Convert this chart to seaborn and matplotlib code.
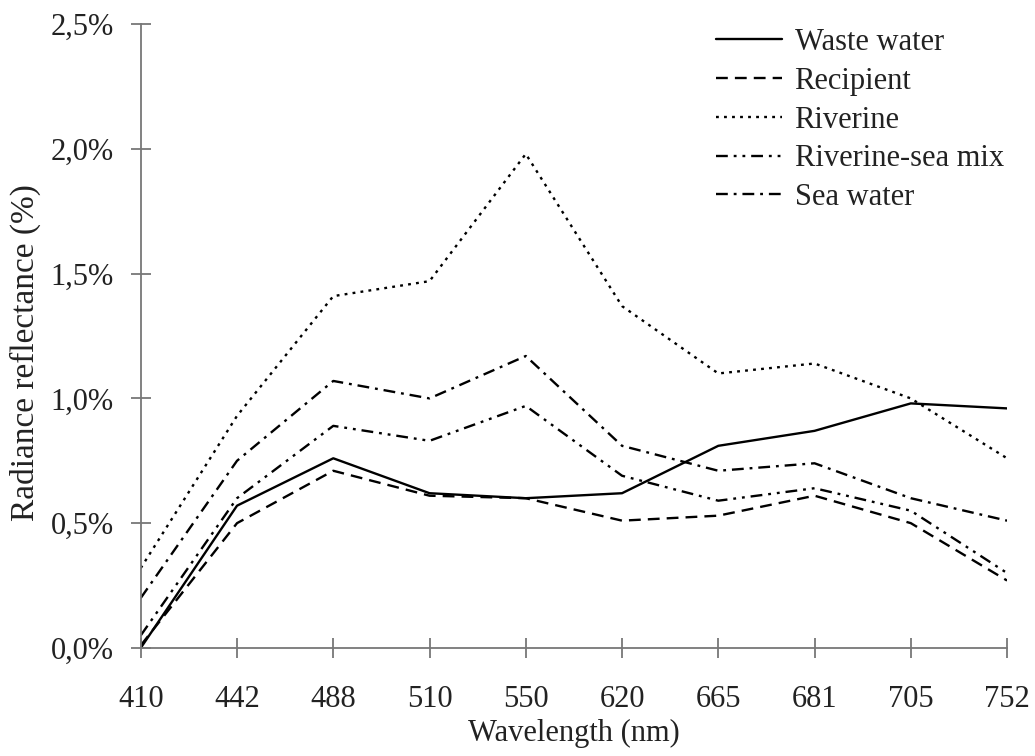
import matplotlib
matplotlib.use("Agg")
import matplotlib.pyplot as plt
import seaborn as sns
import pandas as pd
from matplotlib.ticker import FuncFormatter

wavelengths = ["410", "442", "488", "510", "550", "620", "665", "681", "705", "752"]
waste_water = [0.00, 0.57, 0.76, 0.62, 0.60, 0.62, 0.81, 0.87, 0.98, 0.96]
recipient = [0.01, 0.50, 0.71, 0.61, 0.60, 0.51, 0.53, 0.61, 0.50, 0.27]
riverine = [0.32, 0.93, 1.41, 1.47, 1.98, 1.37, 1.10, 1.14, 1.00, 0.76]
riverine_sea_mix = [0.05, 0.60, 0.89, 0.83, 0.97, 0.69, 0.59, 0.64, 0.55, 0.30]
sea_water = [0.20, 0.75, 1.07, 1.00, 1.17, 0.81, 0.71, 0.74, 0.60, 0.51]

series_names = ["Waste water", "Recipient", "Riverine", "Riverine-sea mix", "Sea water"]
series_values = [waste_water, recipient, riverine, riverine_sea_mix, sea_water]

rows = []
for name, vals in zip(series_names, series_values):
    for i, v in enumerate(vals):
        rows.append({"pos": i, "value": v, "series": name})
df = pd.DataFrame(rows)

sns.set_theme(style="white")
plt.rcParams["font.family"] = ["Liberation Serif", "DejaVu Serif"]

FS = 22
fig = plt.figure(figsize=(10.35, 7.56), dpi=100)
ax = fig.add_axes([0.136, 0.143, 0.837, 0.825])

dashes = {
    "Waste water": "",
    "Recipient": (5, 3),
    "Riverine": (1.2, 2.2),
    "Riverine-sea mix": (5, 2.5, 1.2, 2.5, 1.2, 2.5),
    "Sea water": (5, 2.5, 1.2, 2.5),
}
sns.lineplot(data=df, x="pos", y="value", hue="series", style="series",
             hue_order=series_names, style_order=series_names,
             palette=["black"] * 5, dashes=dashes, linewidth=1.7, ax=ax)

ax.set_xlim(0, len(wavelengths) - 1)
ax.set_ylim(0, 2.5)
ax.set_xticks(range(len(wavelengths)))
ax.set_xticklabels(wavelengths)
ax.set_yticks([0, 0.5, 1.0, 1.5, 2.0, 2.5])
ax.yaxis.set_major_formatter(FuncFormatter(lambda v, p: f"{v:.1f}%".replace(".", ",")))

ax.set_xlabel("Wavelength (nm)", fontsize=FS, color="#222222", labelpad=4)
ax.set_ylabel("Radiance reflectance (%)", fontsize=24, color="#222222", labelpad=10)
ax.yaxis.set_label_coords(-0.115, 0.474)

for s in ["top", "right"]:
    ax.spines[s].set_visible(False)
for s in ["left", "bottom"]:
    ax.spines[s].set_color("#777777")
    ax.spines[s].set_linewidth(1.3)
ax.tick_params(axis="both", bottom=True, left=True, direction="inout", length=15,
               width=1.3, color="#777777", labelsize=FS, labelcolor="#222222")
ax.tick_params(axis="y", pad=12)
ax.tick_params(axis="x", pad=19)

handles, labels = ax.get_legend_handles_labels()
ax.legend(handles, labels, frameon=False, loc="upper left",
          bbox_to_anchor=(716 / 1035, 1 - 28 / 756), bbox_transform=fig.transFigure,
          borderaxespad=0, borderpad=0,
          fontsize=FS, handlelength=2.15, handletextpad=0.42, labelspacing=0.32,
          labelcolor="#222222")

fig.savefig("out.png", dpi=100)
